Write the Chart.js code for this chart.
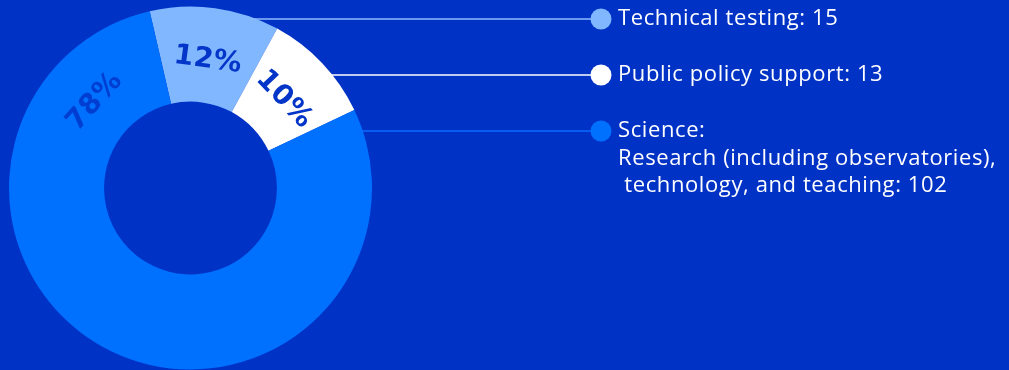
<!DOCTYPE html>
<html>
<head>
<meta charset="utf-8">
<script src="https://cdn.jsdelivr.net/npm/chart.js@4"></script>
<style>
  html, body { margin: 0; padding: 0; background: #0032c6; }
  #wrap { position: relative; width: 1009px; height: 370px; }
</style>
</head>
<body>
<div id="wrap"><canvas id="c" width="1009" height="370"></canvas></div>
<script>
// Funding by field
const categories = ["Technical testing", "Public policy support", "Science"];
const values = [15, 13, 102];
const detailLines = [[], [], ["Research (including observatories),", " technology, and teaching"]];
const sliceColors = ["#80b7ff", "#ffffff", "#0070ff"];
const leaderColors = ["#8dbdff", "#ffffff", "#0a6cff"];
const percentColors = ["#0335c8", "#0335c8", "rgba(0,50,198,0.8)"];

const total = values.reduce((a, b) => a + b, 0);

function legendText(i) {
  const extra = detailLines[i];
  if (extra.length === 0) return [categories[i] + ": " + values[i]];
  const lines = [categories[i] + ":"].concat(extra);
  lines[lines.length - 1] += ": " + values[i];
  return lines;
}

// Percent labels written along the ring, turned to follow the arc
const ringLabels = {
  id: "ringLabels",
  afterDatasetsDraw(chart, args, opts) {
    const ctx = chart.ctx;
    const meta = chart.getDatasetMeta(0);
    meta.data.forEach((arc, i) => {
      const p = arc.getProps(["x", "y", "startAngle", "endAngle", "innerRadius", "outerRadius"], true);
      const shift = opts.endShift[i];
      const a = shift == null ? (p.startAngle + p.endAngle) / 2 : p.endAngle - shift * Math.PI / 180;
      const r = (p.innerRadius + p.outerRadius) / 2 + opts.radialOffset;
      ctx.save();
      ctx.translate(p.x + r * Math.cos(a), p.y + r * Math.sin(a));
      ctx.rotate(a + Math.PI / 2);
      ctx.font = opts.font;
      ctx.letterSpacing = opts.spacing;
      ctx.fillStyle = percentColors[i];
      ctx.textAlign = "center";
      ctx.textBaseline = "middle";
      ctx.fillText(Math.round(values[i] / total * 100) + "%", 0, 0);
      ctx.restore();
    });
  }
};

// Legend on the right, tied to the ring by horizontal leader lines
const sideLegend = {
  id: "sideLegend",
  afterDraw(chart, args, opts) {
    const ctx = chart.ctx;
    const meta = chart.getDatasetMeta(0);
    const arc0 = meta.data[0];
    const cx = arc0.x, cy = arc0.y, R = arc0.outerRadius;
    categories.forEach((c, i) => {
      const y = opts.top + i * opts.rowGap;
      const dy = y - cy;
      const x0 = cx + Math.sqrt(Math.max(R * R - dy * dy, 0)) - 6;
      ctx.save();
      ctx.strokeStyle = leaderColors[i];
      ctx.lineWidth = 1.3;
      ctx.beginPath();
      ctx.moveTo(x0, y);
      ctx.lineTo(opts.dotX, y);
      ctx.stroke();
      ctx.fillStyle = sliceColors[i];
      ctx.beginPath();
      ctx.arc(opts.dotX, y, opts.dotR, 0, Math.PI * 2);
      ctx.fill();
      ctx.fillStyle = "#ffffff";
      ctx.font = opts.font;
      ctx.letterSpacing = opts.spacing;
      ctx.textAlign = "left";
      ctx.textBaseline = "middle";
      legendText(i).forEach((line, k) => {
        ctx.fillText(line, opts.textX, y + k * opts.lineGap);
      });
      ctx.restore();
    });
  }
};

new Chart(document.getElementById("c"), {
  type: "doughnut",
  data: {
    labels: categories,
    datasets: [{
      data: values,
      backgroundColor: sliceColors,
      borderWidth: 0,
      hoverOffset: 0
    }]
  },
  options: {
    responsive: false,
    animation: false,
    devicePixelRatio: 1,
    rotation: -13,
    cutout: "47.6%",
    layout: { padding: { left: 9, top: 6, right: 637, bottom: 0 } },
    plugins: {
      legend: { display: false },
      tooltip: { enabled: false },
      ringLabels: {
        endShift: [null, null, 35],
        radialOffset: -5,
        font: "bold 28px 'DejaVu Sans'",
        spacing: "0.5px"
      },
      sideLegend: {
        top: 19,
        rowGap: 56,
        dotX: 601,
        dotR: 10.5,
        textX: 618,
        lineGap: 27.5,
        font: "400 22px 'Open Sans'",
        spacing: "0.6px"
      }
    }
  },
  plugins: [ringLabels, sideLegend]
});
</script>
</body>
</html>
